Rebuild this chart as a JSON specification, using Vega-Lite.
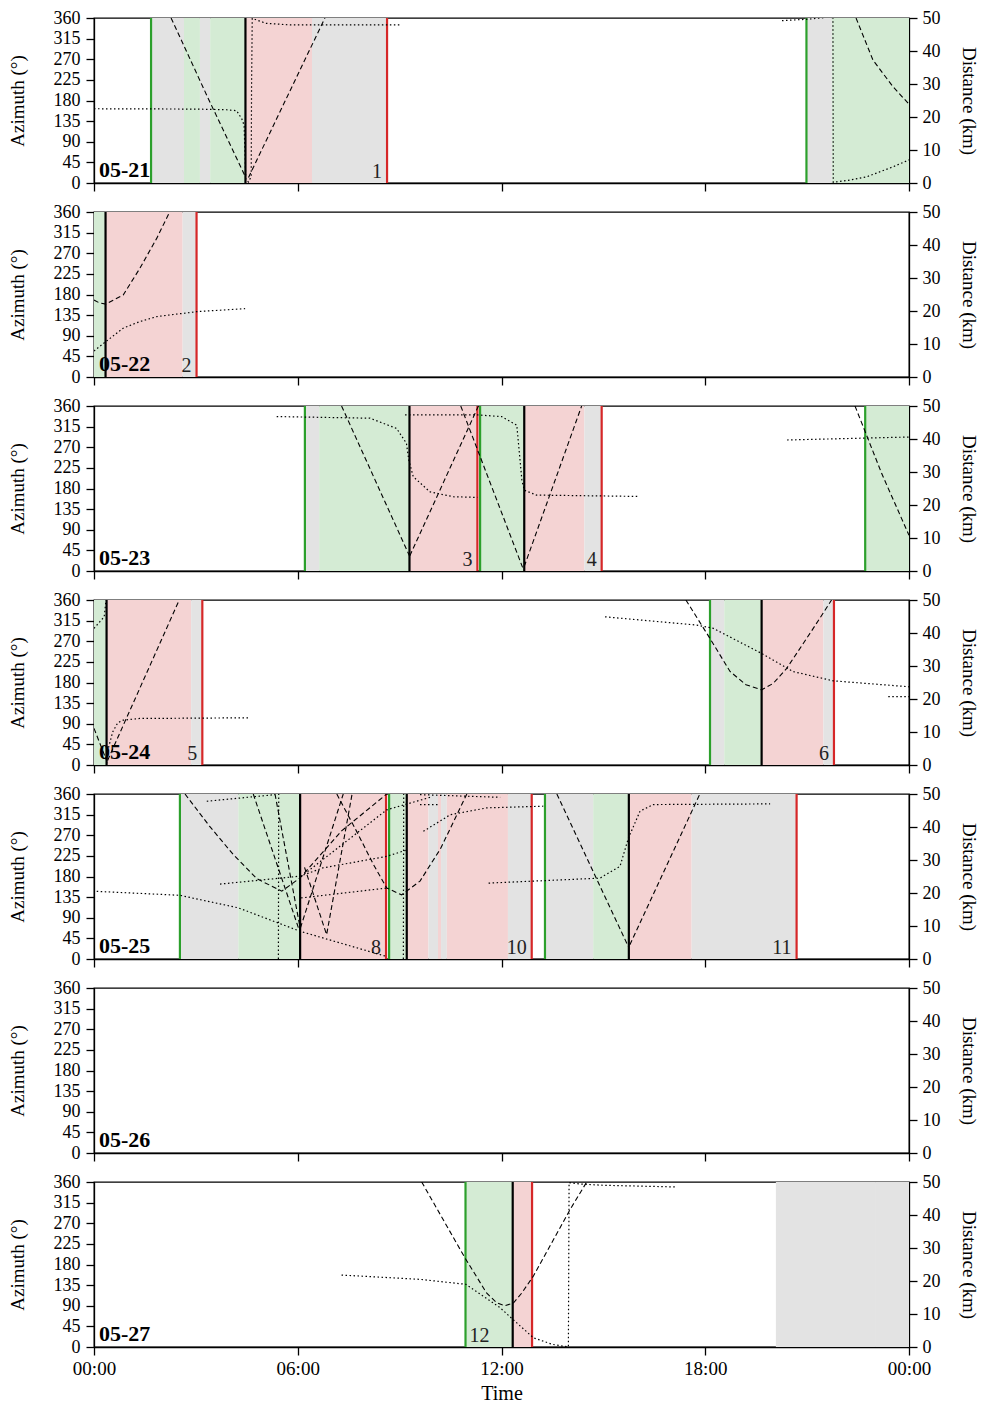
{
"$schema":"https://vega.github.io/schema/vega-lite/v6.json",
"padding":{"left":7,"top":8,"right":5,"bottom":2},
"spacing":29,
"bounds":"flush",
"config":{"font":"Liberation Serif","view":{"stroke":"black","strokeWidth":1.3},
"axis":{"grid":false,"labelFont":"Liberation Serif","titleFont":"Liberation Serif","labelFontSize":18,"titleFontSize":19,"titleFontWeight":"normal","labelColor":"black","titleColor":"black","tickColor":"black","domainColor":"black","tickSize":8,"tickWidth":1.3,"domainWidth":1.3,"labelFlush":false,"labelOverlap":false,"labelSeparation":-20,"minExtent":0},
"axisLeft":{"labelPadding":6,"titlePadding":26},
"axisRight":{"labelPadding":5,"titlePadding":18},
"axisBottom":{"labelPadding":4,"titlePadding":5,"labelFontSize":19,"titleFontSize":20}},
"datasets":{
"shade":[
{"day":"05-21","t0":1.68,"t1":2.65,"kind":"grey"},{"day":"05-21","t0":2.65,"t1":3.12,"kind":"green"},{"day":"05-21","t0":3.12,"t1":3.42,"kind":"grey"},{"day":"05-21","t0":3.42,"t1":4.46,"kind":"green"},{"day":"05-21","t0":4.46,"t1":6.42,"kind":"red"},{"day":"05-21","t0":6.42,"t1":8.63,"kind":"grey"},{"day":"05-21","t0":20.98,"t1":21.73,"kind":"grey"},{"day":"05-21","t0":21.73,"t1":24,"kind":"green"},
{"day":"05-22","t0":0,"t1":0.34,"kind":"green"},{"day":"05-22","t0":0.34,"t1":2.61,"kind":"red"},{"day":"05-22","t0":2.61,"t1":3.02,"kind":"grey"},
{"day":"05-23","t0":6.21,"t1":6.63,"kind":"grey"},{"day":"05-23","t0":6.63,"t1":9.29,"kind":"green"},{"day":"05-23","t0":9.29,"t1":11.29,"kind":"red"},{"day":"05-23","t0":11.37,"t1":12.67,"kind":"green"},{"day":"05-23","t0":12.67,"t1":14.44,"kind":"red"},{"day":"05-23","t0":14.44,"t1":14.95,"kind":"grey"},{"day":"05-23","t0":22.71,"t1":24,"kind":"green"},
{"day":"05-24","t0":0,"t1":0.37,"kind":"green"},{"day":"05-24","t0":0.37,"t1":2.86,"kind":"red"},{"day":"05-24","t0":2.86,"t1":3.19,"kind":"grey"},{"day":"05-24","t0":18.14,"t1":18.56,"kind":"grey"},{"day":"05-24","t0":18.56,"t1":19.66,"kind":"green"},{"day":"05-24","t0":19.66,"t1":21.48,"kind":"red"},{"day":"05-24","t0":21.48,"t1":21.79,"kind":"grey"},
{"day":"05-25","t0":2.53,"t1":4.25,"kind":"grey"},{"day":"05-25","t0":4.25,"t1":6.07,"kind":"green"},{"day":"05-25","t0":6.07,"t1":8.6,"kind":"red"},{"day":"05-25","t0":8.69,"t1":9.21,"kind":"green"},{"day":"05-25","t0":9.21,"t1":9.85,"kind":"red"},{"day":"05-25","t0":9.85,"t1":10.13,"kind":"grey"},{"day":"05-25","t0":10.13,"t1":10.22,"kind":"red"},{"day":"05-25","t0":10.22,"t1":10.39,"kind":"grey"},{"day":"05-25","t0":10.39,"t1":12.19,"kind":"red"},{"day":"05-25","t0":12.19,"t1":12.89,"kind":"grey"},{"day":"05-25","t0":13.28,"t1":14.7,"kind":"grey"},{"day":"05-25","t0":14.7,"t1":15.75,"kind":"green"},{"day":"05-25","t0":15.75,"t1":17.6,"kind":"red"},{"day":"05-25","t0":17.6,"t1":20.69,"kind":"grey"},
{"day":"05-27","t0":10.94,"t1":12.33,"kind":"green"},{"day":"05-27","t0":12.33,"t1":12.9,"kind":"red"},{"day":"05-27","t0":20.08,"t1":23.0,"kind":"grey"},{"day":"05-27","t0":23.0,"t1":24,"kind":"grey"}
],
"rules":[
{"day":"05-21","t":1.68,"kind":"start"},{"day":"05-21","t":4.46,"kind":"closest"},{"day":"05-21","t":8.63,"kind":"end"},{"day":"05-21","t":20.98,"kind":"start"},
{"day":"05-22","t":0.34,"kind":"closest"},{"day":"05-22","t":3.02,"kind":"end"},
{"day":"05-23","t":6.21,"kind":"start"},{"day":"05-23","t":9.29,"kind":"closest"},{"day":"05-23","t":11.29,"kind":"end"},{"day":"05-23","t":11.37,"kind":"start"},{"day":"05-23","t":12.67,"kind":"closest"},{"day":"05-23","t":14.95,"kind":"end"},{"day":"05-23","t":22.71,"kind":"start"},
{"day":"05-24","t":0.37,"kind":"closest"},{"day":"05-24","t":3.19,"kind":"end"},{"day":"05-24","t":18.14,"kind":"start"},{"day":"05-24","t":19.66,"kind":"closest"},{"day":"05-24","t":21.79,"kind":"end"},
{"day":"05-25","t":2.53,"kind":"start"},{"day":"05-25","t":6.07,"kind":"closest"},{"day":"05-25","t":8.6,"kind":"end"},{"day":"05-25","t":8.69,"kind":"start"},{"day":"05-25","t":9.21,"kind":"closest"},{"day":"05-25","t":12.89,"kind":"end"},{"day":"05-25","t":13.28,"kind":"start"},{"day":"05-25","t":15.75,"kind":"closest"},{"day":"05-25","t":20.69,"kind":"end"},
{"day":"05-27","t":10.94,"kind":"start"},{"day":"05-27","t":12.33,"kind":"closest"},{"day":"05-27","t":12.9,"kind":"end"}
],
"az":[
{"day":"05-21","seg":"a","t":2.27,"az":360},{"day":"05-21","seg":"a","t":3.36,"az":185},{"day":"05-21","seg":"a","t":4.45,"az":15},
{"day":"05-21","seg":"b","t":4.55,"az":12},{"day":"05-21","seg":"b","t":5.7,"az":190},{"day":"05-21","seg":"b","t":6.8,"az":360},
{"day":"05-21","seg":"c","t":22.44,"az":360},{"day":"05-21","seg":"c","t":22.94,"az":268},{"day":"05-21","seg":"c","t":23.53,"az":210},{"day":"05-21","seg":"c","t":24,"az":172},
{"day":"05-22","seg":"a","t":0,"az":168},{"day":"05-22","seg":"a","t":0.15,"az":162},{"day":"05-22","seg":"a","t":0.35,"az":159},{"day":"05-22","seg":"a","t":0.86,"az":179},{"day":"05-22","seg":"a","t":1.35,"az":237},{"day":"05-22","seg":"a","t":1.85,"az":303},{"day":"05-22","seg":"a","t":2.24,"az":362},
{"day":"05-23","seg":"a","t":7.29,"az":360},{"day":"05-23","seg":"a","t":9.29,"az":33},
{"day":"05-23","seg":"b","t":9.3,"az":33},{"day":"05-23","seg":"b","t":11.32,"az":360},
{"day":"05-23","seg":"c","t":10.8,"az":360},{"day":"05-23","seg":"c","t":12.62,"az":8},
{"day":"05-23","seg":"d","t":12.67,"az":10},{"day":"05-23","seg":"d","t":14.36,"az":360},
{"day":"05-23","seg":"e","t":22.41,"az":360},{"day":"05-23","seg":"e","t":23.2,"az":212},{"day":"05-23","seg":"e","t":24,"az":78},
{"day":"05-24","seg":"a","t":0,"az":80},{"day":"05-24","seg":"a","t":0.37,"az":10},
{"day":"05-24","seg":"b","t":0.4,"az":10},{"day":"05-24","seg":"b","t":2.51,"az":360},
{"day":"05-24","seg":"c","t":17.43,"az":360},{"day":"05-24","seg":"c","t":18.14,"az":276},{"day":"05-24","seg":"c","t":18.73,"az":204},{"day":"05-24","seg":"c","t":19.2,"az":175},{"day":"05-24","seg":"c","t":19.66,"az":164},{"day":"05-24","seg":"c","t":20.0,"az":178},{"day":"05-24","seg":"c","t":20.4,"az":211},{"day":"05-24","seg":"c","t":21.18,"az":298},{"day":"05-24","seg":"c","t":21.72,"az":360},
{"day":"05-25","seg":"a","t":2.68,"az":360},{"day":"05-25","seg":"a","t":3.4,"az":290},{"day":"05-25","seg":"a","t":4.1,"az":228},{"day":"05-25","seg":"a","t":4.8,"az":175},{"day":"05-25","seg":"a","t":5.53,"az":148},{"day":"05-25","seg":"a","t":6.07,"az":177},{"day":"05-25","seg":"a","t":7.3,"az":280},{"day":"05-25","seg":"a","t":8.62,"az":360},
{"day":"05-25","seg":"b","t":4.69,"az":360},{"day":"05-25","seg":"b","t":6.02,"az":68},
{"day":"05-25","seg":"c","t":5.33,"az":360},{"day":"05-25","seg":"c","t":6.07,"az":68},
{"day":"05-25","seg":"d","t":6.08,"az":68},{"day":"05-25","seg":"d","t":7.34,"az":360},
{"day":"05-25","seg":"e","t":6.2,"az":200},{"day":"05-25","seg":"e","t":6.85,"az":53},{"day":"05-25","seg":"e","t":7.6,"az":360},
{"day":"05-25","seg":"f","t":7.15,"az":360},{"day":"05-25","seg":"f","t":7.73,"az":279},{"day":"05-25","seg":"f","t":8.23,"az":206},{"day":"05-25","seg":"f","t":8.62,"az":155},{"day":"05-25","seg":"f","t":9.06,"az":140},{"day":"05-25","seg":"f","t":9.6,"az":170},{"day":"05-25","seg":"f","t":10.2,"az":240},{"day":"05-25","seg":"f","t":10.98,"az":360},
{"day":"05-25","seg":"g","t":13.63,"az":360},{"day":"05-25","seg":"g","t":15.73,"az":28},
{"day":"05-25","seg":"h","t":15.78,"az":31},{"day":"05-25","seg":"h","t":17.84,"az":360},
{"day":"05-27","seg":"a","t":9.65,"az":360},{"day":"05-27","seg":"a","t":10.92,"az":195},{"day":"05-27","seg":"a","t":11.56,"az":118},{"day":"05-27","seg":"a","t":11.85,"az":97},{"day":"05-27","seg":"a","t":12.1,"az":90},{"day":"05-27","seg":"a","t":12.35,"az":96},{"day":"05-27","seg":"a","t":12.6,"az":118},{"day":"05-27","seg":"a","t":12.94,"az":155},{"day":"05-27","seg":"a","t":14.02,"az":300},{"day":"05-27","seg":"a","t":14.51,"az":360}
],
"dist":[
{"day":"05-21","seg":"a","t":0,"d":22.5},{"day":"05-21","seg":"a","t":3.0,"d":22.4},{"day":"05-21","seg":"a","t":3.9,"d":22.2},{"day":"05-21","seg":"a","t":4.2,"d":21.9},{"day":"05-21","seg":"a","t":4.35,"d":19.5},{"day":"05-21","seg":"a","t":4.42,"d":17.5},{"day":"05-21","seg":"a","t":4.45,"d":8},{"day":"05-21","seg":"a","t":4.47,"d":1},{"day":"05-21","seg":"a","t":4.55,"d":0.3},{"day":"05-21","seg":"a","t":4.63,"d":2},{"day":"05-21","seg":"a","t":4.64,"d":30},{"day":"05-21","seg":"a","t":4.66,"d":49.9},{"day":"05-21","seg":"a","t":5.06,"d":48.4},{"day":"05-21","seg":"a","t":5.77,"d":47.9},{"day":"05-21","seg":"a","t":9.06,"d":47.9},
{"day":"05-21","seg":"b","t":20.26,"d":49.2},{"day":"05-21","seg":"b","t":20.97,"d":49.6},{"day":"05-21","seg":"b","t":21.4,"d":50},{"day":"05-21","seg":"b","t":21.76,"d":50.5},{"day":"05-21","seg":"b","t":21.77,"d":0.2},{"day":"05-21","seg":"b","t":22.2,"d":0.8},{"day":"05-21","seg":"b","t":22.76,"d":1.9},{"day":"05-21","seg":"b","t":23.53,"d":4.9},{"day":"05-21","seg":"b","t":24,"d":7},
{"day":"05-22","seg":"a","t":0,"d":7.9},{"day":"05-22","seg":"a","t":0.47,"d":11.7},{"day":"05-22","seg":"a","t":0.86,"d":14.8},{"day":"05-22","seg":"a","t":1.35,"d":16.8},{"day":"05-22","seg":"a","t":1.85,"d":18.3},{"day":"05-22","seg":"a","t":3.02,"d":19.8},{"day":"05-22","seg":"a","t":4.45,"d":20.7},
{"day":"05-23","seg":"a","t":5.38,"d":46.8},{"day":"05-23","seg":"a","t":8.13,"d":46.3},{"day":"05-23","seg":"a","t":8.91,"d":43.2},{"day":"05-23","seg":"a","t":9.2,"d":38.7},{"day":"05-23","seg":"a","t":9.27,"d":33.6},{"day":"05-23","seg":"a","t":9.4,"d":28.6},{"day":"05-23","seg":"a","t":9.89,"d":24},{"day":"05-23","seg":"a","t":10.58,"d":22.5},{"day":"05-23","seg":"a","t":11.29,"d":22.3},
{"day":"05-23","seg":"b","t":9.16,"d":47.3},{"day":"05-23","seg":"b","t":11.29,"d":47.3},{"day":"05-23","seg":"b","t":12.0,"d":46.8},{"day":"05-23","seg":"b","t":12.45,"d":44.2},{"day":"05-23","seg":"b","t":12.6,"d":27.6},{"day":"05-23","seg":"b","t":12.67,"d":24.5},{"day":"05-23","seg":"b","t":13.03,"d":23},{"day":"05-23","seg":"b","t":16.03,"d":22.6},
{"day":"05-23","seg":"c","t":20.41,"d":39.7},{"day":"05-23","seg":"c","t":24,"d":40.6},
{"day":"05-24","seg":"a","t":0,"d":41.4},{"day":"05-24","seg":"a","t":0.3,"d":44.9},{"day":"05-24","seg":"a","t":0.36,"d":50.5},
{"day":"05-24","seg":"b","t":0.37,"d":0.5},{"day":"05-24","seg":"b","t":0.42,"d":5},{"day":"05-24","seg":"b","t":0.55,"d":10},{"day":"05-24","seg":"b","t":0.7,"d":12.8},{"day":"05-24","seg":"b","t":0.86,"d":13.6},{"day":"05-24","seg":"b","t":1.35,"d":14.1},{"day":"05-24","seg":"b","t":4.59,"d":14.3},
{"day":"05-24","seg":"c","t":15.05,"d":44.9},{"day":"05-24","seg":"c","t":17.75,"d":42.4},{"day":"05-24","seg":"c","t":18.24,"d":41.4},{"day":"05-24","seg":"c","t":19.66,"d":33.8},{"day":"05-24","seg":"c","t":20.59,"d":28.3},{"day":"05-24","seg":"c","t":21.77,"d":25.5},{"day":"05-24","seg":"c","t":24,"d":23.7},
{"day":"05-24","seg":"d","t":23.39,"d":20.7},{"day":"05-24","seg":"d","t":24,"d":20.7},
{"day":"05-25","seg":"a","t":0.08,"d":20.5},{"day":"05-25","seg":"a","t":2.53,"d":19.3},{"day":"05-25","seg":"a","t":4.25,"d":15.5},{"day":"05-25","seg":"a","t":6.07,"d":8.4},{"day":"05-25","seg":"a","t":8.6,"d":0.8},
{"day":"05-25","seg":"b","t":3.32,"d":47.8},{"day":"05-25","seg":"b","t":5.33,"d":49.8},
{"day":"05-25","seg":"c","t":3.71,"d":22.7},{"day":"05-25","seg":"c","t":6.07,"d":25.1},{"day":"05-25","seg":"c","t":6.74,"d":27.6},{"day":"05-25","seg":"c","t":8.62,"d":31.1},{"day":"05-25","seg":"c","t":9.2,"d":33},
{"day":"05-25","seg":"d","t":6.1,"d":18.5},{"day":"05-25","seg":"d","t":8.62,"d":21.5},
{"day":"05-25","seg":"e","t":6.1,"d":25},{"day":"05-25","seg":"e","t":8.62,"d":45.2},{"day":"05-25","seg":"e","t":9.9,"d":49},
{"day":"05-25","seg":"f","t":5.43,"d":0},{"day":"05-25","seg":"f","t":5.44,"d":50},
{"day":"05-25","seg":"g","t":9.11,"d":0},{"day":"05-25","seg":"g","t":9.12,"d":50},
{"day":"05-25","seg":"h","t":9.7,"d":38.7},{"day":"05-25","seg":"h","t":10.49,"d":43.7},{"day":"05-25","seg":"h","t":11.57,"d":45.8},{"day":"05-25","seg":"h","t":13.23,"d":46.3},
{"day":"05-25","seg":"i","t":9.6,"d":49.8},{"day":"05-25","seg":"i","t":11.96,"d":49},
{"day":"05-25","seg":"j","t":9.6,"d":46.8},{"day":"05-25","seg":"j","t":10.14,"d":46.8},
{"day":"05-25","seg":"k","t":11.62,"d":23},{"day":"05-25","seg":"k","t":14.9,"d":24.5},{"day":"05-25","seg":"k","t":15.49,"d":28.1},{"day":"05-25","seg":"k","t":15.74,"d":36.7},{"day":"05-25","seg":"k","t":16.08,"d":44.8},{"day":"05-25","seg":"k","t":16.47,"d":46.8},{"day":"05-25","seg":"k","t":19.91,"d":47},
{"day":"05-27","seg":"a","t":7.29,"d":21.8},{"day":"05-27","seg":"a","t":9.6,"d":20.5},{"day":"05-27","seg":"a","t":10.95,"d":19},{"day":"05-27","seg":"a","t":11.96,"d":11.9},{"day":"05-27","seg":"a","t":12.33,"d":8.4},{"day":"05-27","seg":"a","t":12.94,"d":2.8},{"day":"05-27","seg":"a","t":13.5,"d":0.8},{"day":"05-27","seg":"a","t":13.97,"d":0},{"day":"05-27","seg":"a","t":13.99,"d":49.8},{"day":"05-27","seg":"a","t":14.3,"d":49.4},{"day":"05-27","seg":"a","t":15.0,"d":49},{"day":"05-27","seg":"a","t":17.16,"d":48.5}
],
"dates":[{"day":"05-21"},{"day":"05-22"},{"day":"05-23"},{"day":"05-24"},{"day":"05-25"},{"day":"05-26"},{"day":"05-27"}],
"passes":[
{"day":"05-21","t":8.63,"label":"1","anchor":"end"},{"day":"05-22","t":3.02,"label":"2","anchor":"end"},{"day":"05-23","t":11.29,"label":"3","anchor":"end"},{"day":"05-23","t":14.95,"label":"4","anchor":"end"},{"day":"05-24","t":3.19,"label":"5","anchor":"end"},{"day":"05-24","t":21.79,"label":"6","anchor":"end"},{"day":"05-25","t":8.6,"label":"8","anchor":"end"},{"day":"05-25","t":12.89,"label":"10","anchor":"end"},{"day":"05-25","t":20.69,"label":"11","anchor":"end"},{"day":"05-27","t":10.94,"label":"12","anchor":"start"}
]
},
"vconcat":[
{"width":815,"height":165,"layer":[{"layer":[
{"data":{"name":"shade"},"transform":[{"filter":"datum.day=='05-21'"}],"mark":"rect","encoding":{"x":{"field":"t0","type":"quantitative","scale":{"domain":[0,24],"nice":false},"axis":{"values":[0,6,12,18,24],"labels":false,"title":null}},"x2":{"field":"t1"},"color":{"field":"kind","type":"nominal","scale":{"domain":["grey","green","red","start","closest","end"],"range":["#e3e3e3","#d4ebd4","#f4d3d3","#2ca02c","#000000","#d62728"]},"legend":null}}},
{"data":{"name":"rules"},"transform":[{"filter":"datum.day=='05-21'"}],"mark":{"type":"rule","strokeWidth":2.2},"encoding":{"x":{"field":"t","type":"quantitative"},"color":{"field":"kind","type":"nominal","legend":null}}},
{"data":{"name":"az"},"transform":[{"filter":"datum.day=='05-21'"}],"mark":{"type":"line","strokeDash":[5,3],"strokeWidth":1.1,"color":"#000","clip":true},"encoding":{"x":{"field":"t","type":"quantitative"},"y":{"field":"az","type":"quantitative","scale":{"domain":[0,360],"nice":false},"axis":{"values":[0,45,90,135,180,225,270,315,360],"labelOverlap":false,"title":"Azimuth (°)"}},"detail":{"field":"seg"}}},
{"data":{"name":"dates"},"transform":[{"filter":"datum.day=='05-21'"}],"mark":{"type":"text","align":"left","baseline":"bottom","dx":5,"dy":-1,"fontWeight":"bold","fontSize":22,"font":"Liberation Serif"},"encoding":{"x":{"datum":0,"type":"quantitative"},"y":{"datum":0,"type":"quantitative","axis":{"values":[0,45,90,135,180,225,270,315,360],"labelOverlap":false,"title":"Azimuth (°)"}},"text":{"field":"day"}}},
{"data":{"name":"passes"},"transform":[{"filter":"datum.day=='05-21' && datum.anchor=='end'"}],"mark":{"type":"text","align":"right","baseline":"bottom","dx":-5,"dy":-1,"fontSize":20,"font":"Liberation Serif","color":"#222"},"encoding":{"x":{"field":"t","type":"quantitative"},"y":{"datum":0,"type":"quantitative","axis":{"values":[0,45,90,135,180,225,270,315,360],"labelOverlap":false,"title":"Azimuth (°)"}},"text":{"field":"label"}}}
]},
{"data":{"name":"dist"},"transform":[{"filter":"datum.day=='05-21'"}],"mark":{"type":"line","strokeDash":[1.5,2.5],"strokeWidth":1.2,"color":"#000","clip":true},"encoding":{"x":{"field":"t","type":"quantitative"},"y":{"field":"d","type":"quantitative","scale":{"domain":[0,50],"nice":false},"axis":{"orient":"right","values":[0,10,20,30,40,50],"labelOverlap":false,"title":"Distance (km)"}},"detail":{"field":"seg"}}}
],"resolve":{"scale":{"y":"independent"}}},

{"width":815,"height":165,"layer":[{"layer":[
{"data":{"name":"shade"},"transform":[{"filter":"datum.day=='05-22'"}],"mark":"rect","encoding":{"x":{"field":"t0","type":"quantitative","scale":{"domain":[0,24],"nice":false},"axis":{"values":[0,6,12,18,24],"labels":false,"title":null}},"x2":{"field":"t1"},"color":{"field":"kind","type":"nominal","scale":{"domain":["grey","green","red","start","closest","end"],"range":["#e3e3e3","#d4ebd4","#f4d3d3","#2ca02c","#000000","#d62728"]},"legend":null}}},
{"data":{"name":"rules"},"transform":[{"filter":"datum.day=='05-22'"}],"mark":{"type":"rule","strokeWidth":2.2},"encoding":{"x":{"field":"t","type":"quantitative"},"color":{"field":"kind","type":"nominal","legend":null}}},
{"data":{"name":"az"},"transform":[{"filter":"datum.day=='05-22'"}],"mark":{"type":"line","strokeDash":[5,3],"strokeWidth":1.1,"color":"#000","clip":true},"encoding":{"x":{"field":"t","type":"quantitative"},"y":{"field":"az","type":"quantitative","scale":{"domain":[0,360],"nice":false},"axis":{"values":[0,45,90,135,180,225,270,315,360],"labelOverlap":false,"title":"Azimuth (°)"}},"detail":{"field":"seg"}}},
{"data":{"name":"dates"},"transform":[{"filter":"datum.day=='05-22'"}],"mark":{"type":"text","align":"left","baseline":"bottom","dx":5,"dy":-1,"fontWeight":"bold","fontSize":22,"font":"Liberation Serif"},"encoding":{"x":{"datum":0,"type":"quantitative"},"y":{"datum":0,"type":"quantitative","axis":{"values":[0,45,90,135,180,225,270,315,360],"labelOverlap":false,"title":"Azimuth (°)"}},"text":{"field":"day"}}},
{"data":{"name":"passes"},"transform":[{"filter":"datum.day=='05-22' && datum.anchor=='end'"}],"mark":{"type":"text","align":"right","baseline":"bottom","dx":-5,"dy":-1,"fontSize":20,"font":"Liberation Serif","color":"#222"},"encoding":{"x":{"field":"t","type":"quantitative"},"y":{"datum":0,"type":"quantitative","axis":{"values":[0,45,90,135,180,225,270,315,360],"labelOverlap":false,"title":"Azimuth (°)"}},"text":{"field":"label"}}}
]},
{"data":{"name":"dist"},"transform":[{"filter":"datum.day=='05-22'"}],"mark":{"type":"line","strokeDash":[1.5,2.5],"strokeWidth":1.2,"color":"#000","clip":true},"encoding":{"x":{"field":"t","type":"quantitative"},"y":{"field":"d","type":"quantitative","scale":{"domain":[0,50],"nice":false},"axis":{"orient":"right","values":[0,10,20,30,40,50],"labelOverlap":false,"title":"Distance (km)"}},"detail":{"field":"seg"}}}
],"resolve":{"scale":{"y":"independent"}}},

{"width":815,"height":165,"layer":[{"layer":[
{"data":{"name":"shade"},"transform":[{"filter":"datum.day=='05-23'"}],"mark":"rect","encoding":{"x":{"field":"t0","type":"quantitative","scale":{"domain":[0,24],"nice":false},"axis":{"values":[0,6,12,18,24],"labels":false,"title":null}},"x2":{"field":"t1"},"color":{"field":"kind","type":"nominal","scale":{"domain":["grey","green","red","start","closest","end"],"range":["#e3e3e3","#d4ebd4","#f4d3d3","#2ca02c","#000000","#d62728"]},"legend":null}}},
{"data":{"name":"rules"},"transform":[{"filter":"datum.day=='05-23'"}],"mark":{"type":"rule","strokeWidth":2.2},"encoding":{"x":{"field":"t","type":"quantitative"},"color":{"field":"kind","type":"nominal","legend":null}}},
{"data":{"name":"az"},"transform":[{"filter":"datum.day=='05-23'"}],"mark":{"type":"line","strokeDash":[5,3],"strokeWidth":1.1,"color":"#000","clip":true},"encoding":{"x":{"field":"t","type":"quantitative"},"y":{"field":"az","type":"quantitative","scale":{"domain":[0,360],"nice":false},"axis":{"values":[0,45,90,135,180,225,270,315,360],"labelOverlap":false,"title":"Azimuth (°)"}},"detail":{"field":"seg"}}},
{"data":{"name":"dates"},"transform":[{"filter":"datum.day=='05-23'"}],"mark":{"type":"text","align":"left","baseline":"bottom","dx":5,"dy":-1,"fontWeight":"bold","fontSize":22,"font":"Liberation Serif"},"encoding":{"x":{"datum":0,"type":"quantitative"},"y":{"datum":0,"type":"quantitative","axis":{"values":[0,45,90,135,180,225,270,315,360],"labelOverlap":false,"title":"Azimuth (°)"}},"text":{"field":"day"}}},
{"data":{"name":"passes"},"transform":[{"filter":"datum.day=='05-23' && datum.anchor=='end'"}],"mark":{"type":"text","align":"right","baseline":"bottom","dx":-5,"dy":-1,"fontSize":20,"font":"Liberation Serif","color":"#222"},"encoding":{"x":{"field":"t","type":"quantitative"},"y":{"datum":0,"type":"quantitative","axis":{"values":[0,45,90,135,180,225,270,315,360],"labelOverlap":false,"title":"Azimuth (°)"}},"text":{"field":"label"}}}
]},
{"data":{"name":"dist"},"transform":[{"filter":"datum.day=='05-23'"}],"mark":{"type":"line","strokeDash":[1.5,2.5],"strokeWidth":1.2,"color":"#000","clip":true},"encoding":{"x":{"field":"t","type":"quantitative"},"y":{"field":"d","type":"quantitative","scale":{"domain":[0,50],"nice":false},"axis":{"orient":"right","values":[0,10,20,30,40,50],"labelOverlap":false,"title":"Distance (km)"}},"detail":{"field":"seg"}}}
],"resolve":{"scale":{"y":"independent"}}},

{"width":815,"height":165,"layer":[{"layer":[
{"data":{"name":"shade"},"transform":[{"filter":"datum.day=='05-24'"}],"mark":"rect","encoding":{"x":{"field":"t0","type":"quantitative","scale":{"domain":[0,24],"nice":false},"axis":{"values":[0,6,12,18,24],"labels":false,"title":null}},"x2":{"field":"t1"},"color":{"field":"kind","type":"nominal","scale":{"domain":["grey","green","red","start","closest","end"],"range":["#e3e3e3","#d4ebd4","#f4d3d3","#2ca02c","#000000","#d62728"]},"legend":null}}},
{"data":{"name":"rules"},"transform":[{"filter":"datum.day=='05-24'"}],"mark":{"type":"rule","strokeWidth":2.2},"encoding":{"x":{"field":"t","type":"quantitative"},"color":{"field":"kind","type":"nominal","legend":null}}},
{"data":{"name":"az"},"transform":[{"filter":"datum.day=='05-24'"}],"mark":{"type":"line","strokeDash":[5,3],"strokeWidth":1.1,"color":"#000","clip":true},"encoding":{"x":{"field":"t","type":"quantitative"},"y":{"field":"az","type":"quantitative","scale":{"domain":[0,360],"nice":false},"axis":{"values":[0,45,90,135,180,225,270,315,360],"labelOverlap":false,"title":"Azimuth (°)"}},"detail":{"field":"seg"}}},
{"data":{"name":"dates"},"transform":[{"filter":"datum.day=='05-24'"}],"mark":{"type":"text","align":"left","baseline":"bottom","dx":5,"dy":-1,"fontWeight":"bold","fontSize":22,"font":"Liberation Serif"},"encoding":{"x":{"datum":0,"type":"quantitative"},"y":{"datum":0,"type":"quantitative","axis":{"values":[0,45,90,135,180,225,270,315,360],"labelOverlap":false,"title":"Azimuth (°)"}},"text":{"field":"day"}}},
{"data":{"name":"passes"},"transform":[{"filter":"datum.day=='05-24' && datum.anchor=='end'"}],"mark":{"type":"text","align":"right","baseline":"bottom","dx":-5,"dy":-1,"fontSize":20,"font":"Liberation Serif","color":"#222"},"encoding":{"x":{"field":"t","type":"quantitative"},"y":{"datum":0,"type":"quantitative","axis":{"values":[0,45,90,135,180,225,270,315,360],"labelOverlap":false,"title":"Azimuth (°)"}},"text":{"field":"label"}}}
]},
{"data":{"name":"dist"},"transform":[{"filter":"datum.day=='05-24'"}],"mark":{"type":"line","strokeDash":[1.5,2.5],"strokeWidth":1.2,"color":"#000","clip":true},"encoding":{"x":{"field":"t","type":"quantitative"},"y":{"field":"d","type":"quantitative","scale":{"domain":[0,50],"nice":false},"axis":{"orient":"right","values":[0,10,20,30,40,50],"labelOverlap":false,"title":"Distance (km)"}},"detail":{"field":"seg"}}}
],"resolve":{"scale":{"y":"independent"}}},

{"width":815,"height":165,"layer":[{"layer":[
{"data":{"name":"shade"},"transform":[{"filter":"datum.day=='05-25'"}],"mark":"rect","encoding":{"x":{"field":"t0","type":"quantitative","scale":{"domain":[0,24],"nice":false},"axis":{"values":[0,6,12,18,24],"labels":false,"title":null}},"x2":{"field":"t1"},"color":{"field":"kind","type":"nominal","scale":{"domain":["grey","green","red","start","closest","end"],"range":["#e3e3e3","#d4ebd4","#f4d3d3","#2ca02c","#000000","#d62728"]},"legend":null}}},
{"data":{"name":"rules"},"transform":[{"filter":"datum.day=='05-25'"}],"mark":{"type":"rule","strokeWidth":2.2},"encoding":{"x":{"field":"t","type":"quantitative"},"color":{"field":"kind","type":"nominal","legend":null}}},
{"data":{"name":"az"},"transform":[{"filter":"datum.day=='05-25'"}],"mark":{"type":"line","strokeDash":[5,3],"strokeWidth":1.1,"color":"#000","clip":true},"encoding":{"x":{"field":"t","type":"quantitative"},"y":{"field":"az","type":"quantitative","scale":{"domain":[0,360],"nice":false},"axis":{"values":[0,45,90,135,180,225,270,315,360],"labelOverlap":false,"title":"Azimuth (°)"}},"detail":{"field":"seg"}}},
{"data":{"name":"dates"},"transform":[{"filter":"datum.day=='05-25'"}],"mark":{"type":"text","align":"left","baseline":"bottom","dx":5,"dy":-1,"fontWeight":"bold","fontSize":22,"font":"Liberation Serif"},"encoding":{"x":{"datum":0,"type":"quantitative"},"y":{"datum":0,"type":"quantitative","axis":{"values":[0,45,90,135,180,225,270,315,360],"labelOverlap":false,"title":"Azimuth (°)"}},"text":{"field":"day"}}},
{"data":{"name":"passes"},"transform":[{"filter":"datum.day=='05-25' && datum.anchor=='end'"}],"mark":{"type":"text","align":"right","baseline":"bottom","dx":-5,"dy":-1,"fontSize":20,"font":"Liberation Serif","color":"#222"},"encoding":{"x":{"field":"t","type":"quantitative"},"y":{"datum":0,"type":"quantitative","axis":{"values":[0,45,90,135,180,225,270,315,360],"labelOverlap":false,"title":"Azimuth (°)"}},"text":{"field":"label"}}}
]},
{"data":{"name":"dist"},"transform":[{"filter":"datum.day=='05-25'"}],"mark":{"type":"line","strokeDash":[1.5,2.5],"strokeWidth":1.2,"color":"#000","clip":true},"encoding":{"x":{"field":"t","type":"quantitative"},"y":{"field":"d","type":"quantitative","scale":{"domain":[0,50],"nice":false},"axis":{"orient":"right","values":[0,10,20,30,40,50],"labelOverlap":false,"title":"Distance (km)"}},"detail":{"field":"seg"}}}
],"resolve":{"scale":{"y":"independent"}}},

{"width":815,"height":165,"layer":[{"layer":[
{"data":{"name":"shade"},"transform":[{"filter":"datum.day=='05-26'"}],"mark":"rect","encoding":{"x":{"field":"t0","type":"quantitative","scale":{"domain":[0,24],"nice":false},"axis":{"values":[0,6,12,18,24],"labels":false,"title":null}},"x2":{"field":"t1"},"color":{"field":"kind","type":"nominal","scale":{"domain":["grey","green","red","start","closest","end"],"range":["#e3e3e3","#d4ebd4","#f4d3d3","#2ca02c","#000000","#d62728"]},"legend":null}}},
{"data":{"name":"az"},"transform":[{"filter":"datum.day=='05-26'"}],"mark":{"type":"line","strokeDash":[5,3],"strokeWidth":1.1,"color":"#000","clip":true},"encoding":{"x":{"field":"t","type":"quantitative"},"y":{"field":"az","type":"quantitative","scale":{"domain":[0,360],"nice":false},"axis":{"values":[0,45,90,135,180,225,270,315,360],"labelOverlap":false,"title":"Azimuth (°)"}},"detail":{"field":"seg"}}},
{"data":{"name":"dates"},"transform":[{"filter":"datum.day=='05-26'"}],"mark":{"type":"text","align":"left","baseline":"bottom","dx":5,"dy":-1,"fontWeight":"bold","fontSize":22,"font":"Liberation Serif"},"encoding":{"x":{"datum":0,"type":"quantitative"},"y":{"datum":0,"type":"quantitative","axis":{"values":[0,45,90,135,180,225,270,315,360],"labelOverlap":false,"title":"Azimuth (°)"}},"text":{"field":"day"}}}
]},
{"data":{"name":"dist"},"transform":[{"filter":"datum.day=='05-26'"}],"mark":{"type":"line","strokeDash":[1.5,2.5],"strokeWidth":1.2,"color":"#000","clip":true},"encoding":{"x":{"field":"t","type":"quantitative"},"y":{"field":"d","type":"quantitative","scale":{"domain":[0,50],"nice":false},"axis":{"orient":"right","values":[0,10,20,30,40,50],"labelOverlap":false,"title":"Distance (km)"}},"detail":{"field":"seg"}}}
],"resolve":{"scale":{"y":"independent"}}},

{"width":815,"height":165,"layer":[{"layer":[
{"data":{"name":"shade"},"transform":[{"filter":"datum.day=='05-27'"}],"mark":"rect","encoding":{"x":{"field":"t0","type":"quantitative","scale":{"domain":[0,24],"nice":false},"axis":{"values":[0,6,12,18,24],"title":"Time","labelExpr":"(datum.value % 24 < 10 ? '0' : '') + (datum.value % 24) + ':00'"}},"x2":{"field":"t1"},"color":{"field":"kind","type":"nominal","scale":{"domain":["grey","green","red","start","closest","end"],"range":["#e3e3e3","#d4ebd4","#f4d3d3","#2ca02c","#000000","#d62728"]},"legend":null}}},
{"data":{"name":"rules"},"transform":[{"filter":"datum.day=='05-27'"}],"mark":{"type":"rule","strokeWidth":2.2},"encoding":{"x":{"field":"t","type":"quantitative"},"color":{"field":"kind","type":"nominal","legend":null}}},
{"data":{"name":"az"},"transform":[{"filter":"datum.day=='05-27'"}],"mark":{"type":"line","strokeDash":[5,3],"strokeWidth":1.1,"color":"#000","clip":true},"encoding":{"x":{"field":"t","type":"quantitative"},"y":{"field":"az","type":"quantitative","scale":{"domain":[0,360],"nice":false},"axis":{"values":[0,45,90,135,180,225,270,315,360],"labelOverlap":false,"title":"Azimuth (°)"}},"detail":{"field":"seg"}}},
{"data":{"name":"dates"},"transform":[{"filter":"datum.day=='05-27'"}],"mark":{"type":"text","align":"left","baseline":"bottom","dx":5,"dy":-1,"fontWeight":"bold","fontSize":22,"font":"Liberation Serif"},"encoding":{"x":{"datum":0,"type":"quantitative"},"y":{"datum":0,"type":"quantitative","axis":{"values":[0,45,90,135,180,225,270,315,360],"labelOverlap":false,"title":"Azimuth (°)"}},"text":{"field":"day"}}},
{"data":{"name":"passes"},"transform":[{"filter":"datum.day=='05-27' && datum.anchor=='start'"}],"mark":{"type":"text","align":"left","baseline":"bottom","dx":4,"dy":-1,"fontSize":20,"font":"Liberation Serif","color":"#222"},"encoding":{"x":{"field":"t","type":"quantitative"},"y":{"datum":0,"type":"quantitative","axis":{"values":[0,45,90,135,180,225,270,315,360],"labelOverlap":false,"title":"Azimuth (°)"}},"text":{"field":"label"}}}
]},
{"data":{"name":"dist"},"transform":[{"filter":"datum.day=='05-27'"}],"mark":{"type":"line","strokeDash":[1.5,2.5],"strokeWidth":1.2,"color":"#000","clip":true},"encoding":{"x":{"field":"t","type":"quantitative"},"y":{"field":"d","type":"quantitative","scale":{"domain":[0,50],"nice":false},"axis":{"orient":"right","values":[0,10,20,30,40,50],"labelOverlap":false,"title":"Distance (km)"}},"detail":{"field":"seg"}}}
],"resolve":{"scale":{"y":"independent"}}}
]
}
